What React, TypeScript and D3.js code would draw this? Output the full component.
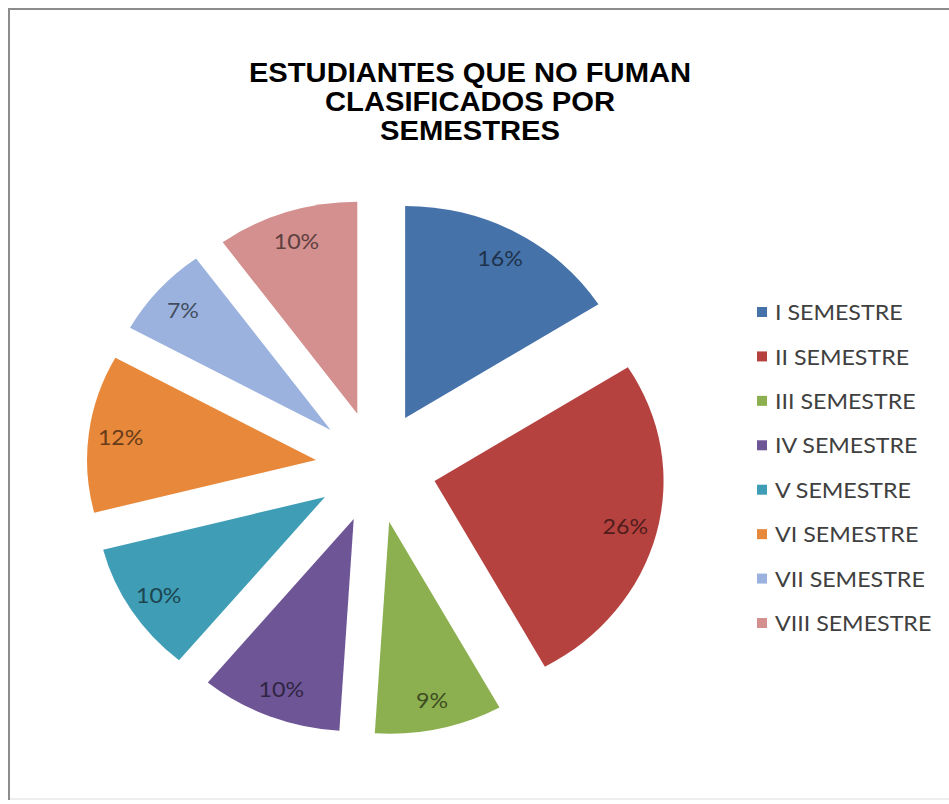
import React from 'react';
import * as d3 from 'd3';

// Students who don't smoke, by semester
const categories = [
  'I SEMESTRE',
  'II SEMESTRE',
  'III SEMESTRE',
  'IV SEMESTRE',
  'V SEMESTRE',
  'VI SEMESTRE',
  'VII SEMESTRE',
  'VIII SEMESTRE',
];
const values = [16, 26, 9, 10, 10, 12, 7, 10];
const colors = ['#4672AA', '#B5423F', '#8CB04F', '#6E5596', '#3F9DB6', '#E8883A', '#9AB2DD', '#D48F8F'];
const titleLines = ['ESTUDIANTES QUE NO FUMAN', 'CLASIFICADOS POR', 'SEMESTRES'];

const W = 949;
const H = 804;
const SX = 1.08; // horizontal stretch of the whole drawing
const CX = 376 / SX;
const CY = 467;
const R = 212;
const EXPLODE = 56;
const LABEL_R = 0.86 * R;

export default function App() {
  const pie = d3.pie<number>().sort(null).value((d) => d);
  const arcs = pie(values);
  const arc = d3.arc<d3.PieArcDatum<number>>().innerRadius(0).outerRadius(R);
  const total = d3.sum(values);

  const legendY = d3.scalePoint<string>().domain(categories).range([312, 623]);

  return (
    <svg
      width={W}
      height={H}
      style={{ position: 'absolute', left: 0, top: 0, background: '#fff' }}
    >
      {/* chart frame */}
      <rect x={9} y={9} width={W} height={790} fill="#fff" stroke="#dcdcdc" strokeWidth={1} />
      <line x1={9} y1={8} x2={9} y2={800} stroke="#8c8c8c" strokeWidth={2} />
      <line x1={8} y1={9} x2={W} y2={9} stroke="#8c8c8c" strokeWidth={2} />

      <g transform={`scale(${SX},1)`}>
        {titleLines.map((t, i) => (
          <text
            key={t}
            x={470 / SX}
            y={82 + i * 29}
            textAnchor="middle"
            fontFamily="'Liberation Sans', Arial, sans-serif"
            fontWeight="bold"
            fontSize={27}
            fill="#000"
          >
            {t}
          </text>
        ))}

        {arcs.map((a, i) => {
          const mid = (a.startAngle + a.endAngle) / 2;
          const ox = CX + Math.sin(mid) * EXPLODE;
          const oy = CY - Math.cos(mid) * EXPLODE;
          const lx = ox + Math.sin(mid) * LABEL_R;
          const ly = oy - Math.cos(mid) * LABEL_R;
          const pct = Math.round((a.data / total) * 100);
          const labelColor = d3.color(colors[i])!.darker(2.3).formatHex();
          return (
            <g key={categories[i]}>
              <path d={arc(a) ?? ''} transform={`translate(${ox},${oy})`} fill={colors[i]} />
              <text
                x={lx}
                y={ly}
                textAnchor="middle"
                dominantBaseline="central"
                fontFamily="Lato, 'Open Sans', sans-serif"
                fontSize={21.5}
                fill={labelColor}
              >
                {pct}%
              </text>
            </g>
          );
        })}

        {categories.map((c, i) => {
          const y = legendY(c)!;
          return (
            <g key={c}>
              <rect x={757 / SX} y={y - 5} width={10 / SX} height={10} fill={colors[i]} />
              <text
                x={775 / SX}
                y={y}
                dominantBaseline="central"
                fontFamily="Lato, 'Open Sans', sans-serif"
                fontSize={21.5}
                fill="#404040"
              >
                {c}
              </text>
            </g>
          );
        })}
      </g>
    </svg>
  );
}
